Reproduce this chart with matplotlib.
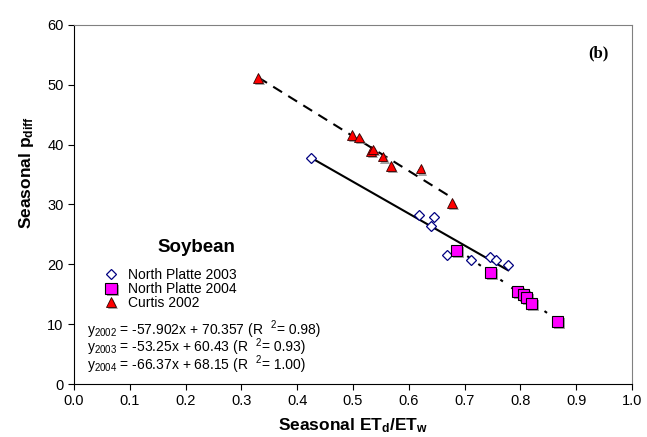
import matplotlib as mpl
mpl.use("Agg")
import matplotlib.pyplot as plt
import matplotlib.patheffects as pe
import numpy as np

mpl.rcParams.update({
    "font.family": ["Liberation Sans", "DejaVu Sans"],
    "mathtext.fontset": "custom",
    "mathtext.rm": "Liberation Sans",
    "mathtext.default": "regular",
})

# ---- data -------------------------------------------------------------
x_np2003 = [0.425, 0.618, 0.646, 0.640, 0.668, 0.711, 0.745, 0.756, 0.778]
y_np2003 = [37.8, 28.2, 27.9, 26.4, 21.6, 20.8, 21.3, 20.7, 19.9]

x_np2004 = [0.685, 0.746, 0.795, 0.805, 0.811, 0.820, 0.866]
y_np2004 = [22.3, 18.7, 15.5, 14.9, 14.4, 13.5, 10.4]

x_cu2002 = [0.330, 0.498, 0.511, 0.532, 0.536, 0.553, 0.568, 0.621, 0.677]
y_cu2002 = [51.2, 41.6, 41.2, 38.9, 39.2, 38.0, 36.4, 36.0, 30.3]

# regression coefficients (slope, intercept)
fit2002 = (-57.902, 70.357)
fit2003 = (-53.25, 60.43)
fit2004 = (-66.37, 68.15)

eq_labels = [
    ("2002", "-57.902x + 70.357", "0.98"),
    ("2003", "-53.25x + 60.43", "0.93"),
    ("2004", "-66.37x + 68.15", "1.00"),
]

W, H = 647, 437
fig = plt.figure(figsize=(W / 100, H / 100), dpi=100)
ax = fig.add_axes([74 / W, 1 - 384 / H, (632 - 74) / W, (384 - 25) / H])


def fig_xy(px, py):
    return px / W, 1 - py / H


shadow = [pe.SimplePatchShadow(offset=(1.5, -1.5), shadow_rgbFace="0.55", alpha=0.8), pe.Normal()]

# fitted lines
for (m, b), xs, ls in [(fit2002, x_cu2002, (0, (5, 3.5))),
                       (fit2003, x_np2003, "-"),
                       (fit2004, x_np2004, (0, (1.5, 5)))]:
    xx = np.array([min(xs), max(xs)])
    ax.plot(xx, m * xx + b, color="black", lw=1.5, linestyle=ls, zorder=2)

h3, = ax.plot(x_np2003, y_np2003, "D", ms=4.8, mfc="white", mec="#000080", mew=0.9,
              linestyle="none", zorder=3, label="North Platte 2003")
h4, = ax.plot(x_np2004, y_np2004, "s", ms=8, mfc="#FF00FF", mec="black", mew=0.8,
              linestyle="none", zorder=4, label="North Platte 2004", path_effects=shadow)
h2, = ax.plot(x_cu2002, y_cu2002, "^", ms=7, mfc="#FF0000", mec="#300000", mew=0.6,
              linestyle="none", zorder=5, label="Curtis 2002", path_effects=shadow)

ax.set_xlim(0, 1)
ax.set_ylim(0, 60)
ax.set_xticks(np.arange(0, 1.01, 0.1))
ax.set_xticklabels([f"{v:.1f}" for v in np.arange(0, 1.01, 0.1)])
ax.set_yticks(range(0, 61, 10))
ax.tick_params(direction="out", length=4, width=0.8, labelsize=10.5, colors="black")
for s in ("left", "bottom"):
    ax.spines[s].set_color("black")
for s in ("top", "right"):
    ax.spines[s].set_color("#808080")

leg = ax.legend(handles=[h3, h4, h2], loc="upper left", bbox_to_anchor=((104 - 74) / 558, (384 - 268) / 359),
                frameon=False, fontsize=10, handlelength=1.0, handletextpad=0.7,
                labelspacing=0.0, borderpad=0, borderaxespad=0)

fig.text(*fig_xy(196, 248), "Soybean", fontsize=13.5, fontweight="bold", ha="center", va="center")

# regression equations; the R-squared superscript is drawn as its own small text
renderer = fig.canvas.get_renderer()
for (yr, eq, r2), base in zip(eq_labels, [334, 351.5, 369]):
    t1 = fig.text(*fig_xy(87, base), f"y$_{{{yr}}}$ = {eq} (R", fontsize=10,
                  ha="left", va="baseline")
    x1 = t1.get_window_extent(renderer).x1
    t2 = fig.text(x1 / W + 7 / W, 1 - (base - 6) / H, "2", fontsize=7, ha="left", va="baseline")
    x2 = t2.get_window_extent(renderer).x1
    fig.text(x2 / W + 1 / W, 1 - base / H, f"= {r2})", fontsize=10, ha="left", va="baseline")

fig.text(*fig_xy(598, 53), "(b)", fontsize=12, fontweight="bold",
         family=["Liberation Serif", "DejaVu Serif"], ha="center", va="center")

fig.text(*fig_xy(353, 426), "Seasonal ET$_d$/ET$_w$", fontsize=12.5, fontweight="bold",
         ha="center", va="center")
fig.text(*fig_xy(27, 173), "Seasonal p$_{diff}$", fontsize=12.5, fontweight="bold",
         ha="center", va="center", rotation=90)

fig.savefig("out.png", dpi=100)
